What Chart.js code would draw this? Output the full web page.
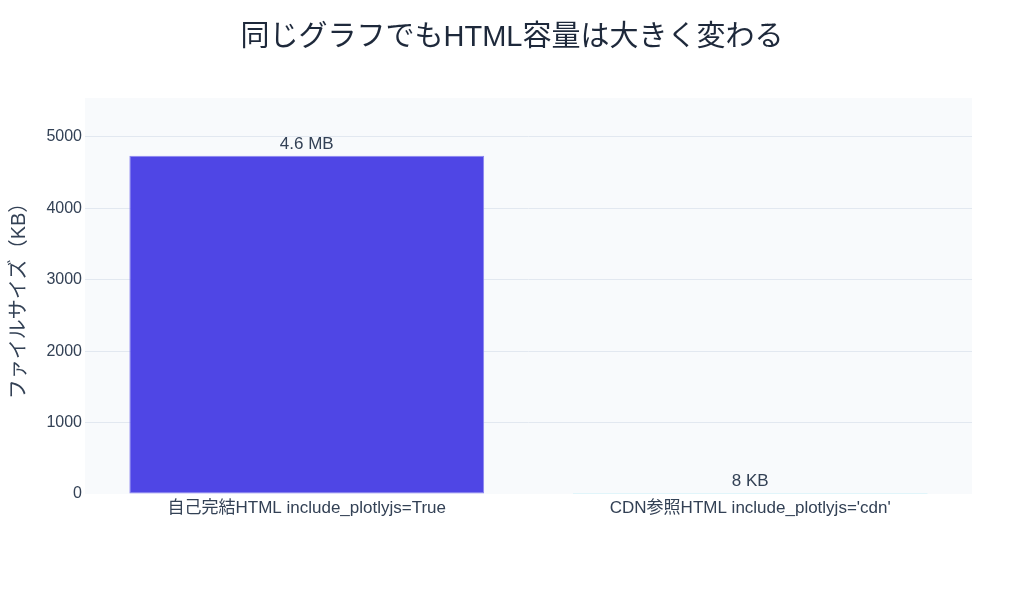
<!DOCTYPE html>
<html>
<head>
<meta charset="utf-8">
<script src="https://cdn.jsdelivr.net/npm/chart.js@4"></script>
<style>
  html, body { margin: 0; padding: 0; background: #fff; }
  #wrap { width: 1024px; height: 597px; }
</style>
</head>
<body>
<div id="wrap"><canvas id="sizeChart"></canvas></div>
<script>
// values
const chartTitle = '同じグラフでもHTML容量は大きく変わる';
const categories = ['自己完結HTML include_plotlyjs=True', "CDN参照HTML include_plotlyjs='cdn'"];
const sizesKB = [4735, 8];
const valueLabels = ['4.6 MB', '8 KB'];
const yTicks = [0, 1000, 2000, 3000, 4000, 5000];
const barColors = ['#4f46e5', '#9ae6f2'];
const barBorders = ['#8b85f0', '#9ae6f2'];
const yMax = 5545;

const FONT = "'Liberation Sans', 'Noto Sans CJK JP', sans-serif";

// plot background like plotly, and the page title centred on the page
const plotBg = {
  id: 'plotBg',
  beforeDraw(chart) {
    const { ctx, chartArea: a } = chart;
    ctx.save();
    ctx.fillStyle = '#f8fafc';
    ctx.fillRect(a.left, a.top, a.right - a.left, a.bottom - a.top);
    ctx.font = '29px ' + FONT;
    ctx.fillStyle = '#1e293b';
    ctx.textAlign = 'center';
    ctx.textBaseline = 'middle';
    ctx.fillText(chartTitle, chart.width / 2, 38);
    ctx.restore();
  }
};

// text above each bar
const barText = {
  id: 'barText',
  afterDatasetsDraw(chart) {
    const { ctx } = chart;
    const meta = chart.getDatasetMeta(0);
    ctx.save();
    ctx.font = '17px ' + FONT;
    ctx.fillStyle = '#334155';
    ctx.textAlign = 'center';
    ctx.textBaseline = 'bottom';
    meta.data.forEach((bar, i) => {
      ctx.fillText(valueLabels[i], bar.x, bar.y - 3);
    });
    ctx.restore();
  }
};

new Chart(document.getElementById('sizeChart'), {
  type: 'bar',
  data: {
    labels: categories,
    datasets: [{
      data: sizesKB,
      backgroundColor: barColors,
      borderColor: barBorders,
      borderWidth: 1,
      borderSkipped: false,
      minBarLength: 1,
      categoryPercentage: 0.8,
      barPercentage: 1.0
    }]
  },
  options: {
    responsive: true,
    maintainAspectRatio: false,
    animation: false,
    layout: { padding: { left: 0, right: 52, top: 98, bottom: 0 } },
    plugins: {
      legend: { display: false },
      tooltip: { enabled: false },
      title: { display: false }
    },
    scales: {
      x: {
        grid: { display: false, drawTicks: false },
        border: { display: false },
        ticks: { color: '#334155', font: { family: FONT, size: 17 }, padding: 4, maxRotation: 0 },
        afterFit(scale) { scale.height = 103; }
      },
      y: {
        min: 0,
        max: yMax,
        grid: {
          drawTicks: false,
          color: ctx => ctx.tick && ctx.tick.value === 0 ? 'rgba(0,0,0,0)' : '#e2e8f0',
          lineWidth: 1
        },
        border: { display: false },
        ticks: {
          color: '#334155',
          font: { family: FONT, size: 16 },
          padding: 3,
          callback: v => String(v)
        },
        afterBuildTicks(scale) {
          scale.ticks = yTicks.map(v => ({ value: v }));
        },
        title: {
          display: true,
          text: 'ファイルサイズ（KB）',
          color: '#334155',
          font: { family: FONT, size: 20 },
          padding: { top: 7, bottom: 0 }
        },
        afterFit(scale) { scale.width = 85; }
      }
    }
  },
  plugins: [plotBg, barText]
});
</script>
</body>
</html>
